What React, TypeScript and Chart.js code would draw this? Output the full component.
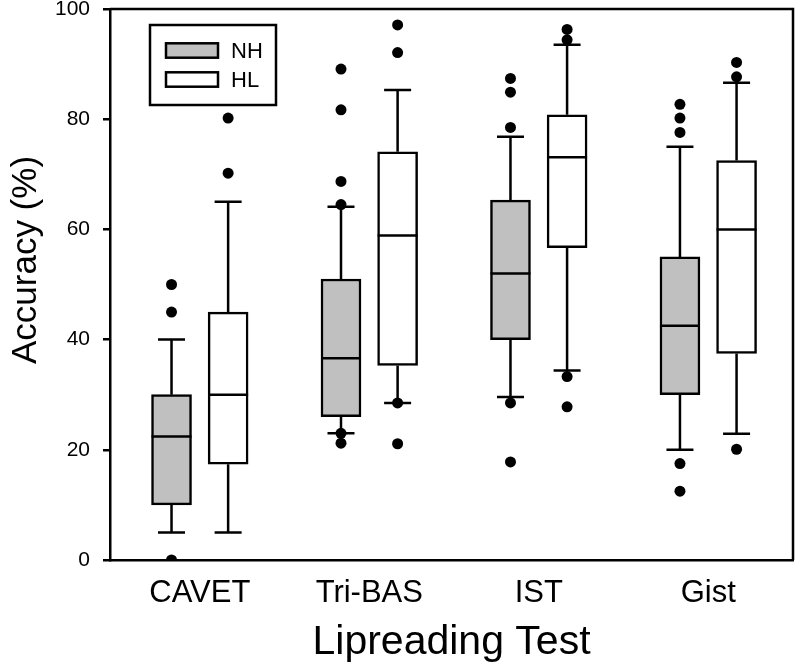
import React, { useEffect, useRef } from 'react';
import { Chart, registerables } from 'chart.js';

Chart.register(...registerables);

// ---- data ----
const categories = ['CAVET', 'Tri-BAS', 'IST', 'Gist'];
const yTicks = [0, 20, 40, 60, 80, 100];
const groupNames = ['NH', 'HL'];

const nhLowerWhisker = [5, 23, 29.6, 20];
const nhQ1 = [10, 26, 40, 30];
const nhMedian = [22.4, 36.6, 52, 42.5];
const nhQ3 = [30, 51, 65.3, 55];
const nhUpperWhisker = [40, 64.1, 76.8, 75];
const nhOutliers = [
  [0, 45, 50],
  [21.2, 23, 64.5, 68.7, 81.7, 89.1],
  [17.8, 28.5, 78.5, 84.9, 87.4],
  [12.5, 17.5, 77.6, 80.2, 82.7],
];

const hlLowerWhisker = [5, 28.5, 34.4, 22.9];
const hlQ1 = [17.4, 35.3, 56.7, 37.5];
const hlMedian = [30, 58.9, 73.1, 60];
const hlQ3 = [45, 74.1, 80.8, 72.5];
const hlUpperWhisker = [65, 85.3, 93.5, 86.6];
const hlOutliers = [
  [70.2, 80.2],
  [21.1, 28.5, 92.1, 97.1],
  [27.8, 33.3, 94.4, 96.3],
  [20.1, 87.7, 90.3],
];

// ---- styling ----
const FONT = "'Liberation Sans', Arial, sans-serif";
const NH_FILL = '#c0c0c0';
const HL_FILL = '#ffffff';
const LINE = '#000000';
const LW = 2.5;
const GROUP_OFFSET = 0.167;
const CAP_HALF = 13.5;

const boxDataset = (label: string, fill: string, offset: number, lo: number[], q1: number[], med: number[], q3: number[], hi: number[]) => ({
  type: 'bar' as const,
  label,
  data: categories.map((_, i) => ({ x: i + 1 + offset, y: [q1[i], q3[i]] })),
  backgroundColor: fill,
  borderColor: LINE,
  borderWidth: LW,
  borderSkipped: false,
  barThickness: 40,
  grouped: false,
  boxStats: { lo, med, hi, q1, q3 },
  order: 2,
});

const outlierDataset = (label: string, offset: number, outs: number[][]) => ({
  type: 'scatter' as const,
  label,
  data: outs.flatMap((vals, i) => vals.map((v) => ({ x: i + 1 + offset, y: v }))),
  backgroundColor: LINE,
  borderWidth: 0,
  pointRadius: 5.5,
  pointHoverRadius: 5.5,
  order: 1,
});

const whiskerPlugin = {
  id: 'whiskers',
  beforeDatasetsDraw(chart: any) {
    const ctx = chart.ctx;
    const yS = chart.scales.y;
    ctx.save();
    ctx.strokeStyle = LINE;
    ctx.lineWidth = LW;
    chart.data.datasets.forEach((ds: any, di: number) => {
      if (!ds.boxStats) return;
      const meta = chart.getDatasetMeta(di);
      meta.data.forEach((el: any, i: number) => {
        const x = el.x;
        const s = ds.boxStats;
        const yLo = yS.getPixelForValue(s.lo[i]);
        const yQ1 = yS.getPixelForValue(s.q1[i]);
        const yQ3 = yS.getPixelForValue(s.q3[i]);
        const yHi = yS.getPixelForValue(s.hi[i]);
        ctx.beginPath();
        ctx.moveTo(x, yQ1);
        ctx.lineTo(x, yLo);
        ctx.moveTo(x - CAP_HALF, yLo);
        ctx.lineTo(x + CAP_HALF, yLo);
        ctx.moveTo(x, yQ3);
        ctx.lineTo(x, yHi);
        ctx.moveTo(x - CAP_HALF, yHi);
        ctx.lineTo(x + CAP_HALF, yHi);
        ctx.stroke();
      });
    });
    ctx.restore();
  },
  afterDatasetsDraw(chart: any) {
    const ctx = chart.ctx;
    const yS = chart.scales.y;
    ctx.save();
    ctx.strokeStyle = LINE;
    ctx.lineWidth = LW;
    chart.data.datasets.forEach((ds: any, di: number) => {
      if (!ds.boxStats) return;
      const meta = chart.getDatasetMeta(di);
      meta.data.forEach((el: any, i: number) => {
        const y = yS.getPixelForValue(ds.boxStats.med[i]);
        const half = el.width / 2;
        ctx.beginPath();
        ctx.moveTo(el.x - half, y);
        ctx.lineTo(el.x + half, y);
        ctx.stroke();
      });
    });
    ctx.restore();
  },
};

const framePlugin = {
  id: 'frame',
  afterDraw(chart: any) {
    const { left, right, top, bottom } = chart.chartArea;
    const ctx = chart.ctx;
    ctx.save();
    ctx.strokeStyle = LINE;
    ctx.lineWidth = LW;
    ctx.beginPath();
    ctx.moveTo(left, top);
    ctx.lineTo(right, top);
    ctx.lineTo(right, bottom);
    ctx.stroke();
    ctx.restore();
  },
};

const yTitlePlugin = {
  id: 'yTitle',
  afterDraw(chart: any) {
    const ctx = chart.ctx;
    ctx.save();
    ctx.translate(35.5, 260);
    ctx.rotate(-Math.PI / 2);
    ctx.font = `35px ${FONT}`;
    ctx.fillStyle = LINE;
    ctx.textAlign = 'center';
    ctx.textBaseline = 'alphabetic';
    ctx.fillText('Accuracy (%)', 0, 0);
    ctx.restore();
  },
};

const legendPlugin = {
  id: 'boxLegend',
  afterDraw(chart: any) {
    const ctx = chart.ctx;
    const { left, top } = chart.chartArea;
    const bx = left + 40;
    const by = top + 16;
    ctx.save();
    ctx.fillStyle = '#ffffff';
    ctx.fillRect(bx, by, 126, 80);
    ctx.strokeStyle = LINE;
    ctx.lineWidth = LW;
    ctx.strokeRect(bx, by, 126, 80);
    const boxes = chart.data.datasets.filter((d: any) => d.boxStats);
    boxes.forEach((ds: any, k: number) => {
      const cy = by + 25.5 + k * 29;
      ctx.fillStyle = ds.backgroundColor;
      ctx.fillRect(bx + 16, cy - 7.2, 52, 14.4);
      ctx.strokeRect(bx + 16, cy - 7.2, 52, 14.4);
      ctx.fillStyle = LINE;
      ctx.font = `22px ${FONT}`;
      ctx.textAlign = 'left';
      ctx.textBaseline = 'middle';
      ctx.fillText(ds.label, bx + 81, cy + 1);
    });
    ctx.restore();
  },
};

export default function App() {
  const canvasRef = useRef<HTMLCanvasElement | null>(null);

  useEffect(() => {
    const canvas = canvasRef.current;
    if (!canvas) return;
    const chart = new Chart(canvas, {
      type: 'bar',
      data: {
        datasets: [
          boxDataset(groupNames[0], NH_FILL, -GROUP_OFFSET, nhLowerWhisker, nhQ1, nhMedian, nhQ3, nhUpperWhisker),
          boxDataset(groupNames[1], HL_FILL, GROUP_OFFSET, hlLowerWhisker, hlQ1, hlMedian, hlQ3, hlUpperWhisker),
          outlierDataset(groupNames[0] + ' outliers', -GROUP_OFFSET, nhOutliers),
          outlierDataset(groupNames[1] + ' outliers', GROUP_OFFSET, hlOutliers),
        ] as any,
      },
      options: {
        animation: false,
        responsive: false,
        maintainAspectRatio: false,
        devicePixelRatio: 1,
        events: [],
        layout: { padding: { top: 9, right: 7, left: 0, bottom: 0 } },
        plugins: {
          legend: { display: false },
          tooltip: { enabled: false },
          title: { display: false },
        },
        scales: {
          x: {
            type: 'linear',
            min: 0.47,
            max: 4.5,
            offset: false,
            afterBuildTicks: (s: any) => {
              s.ticks = categories.map((_, i) => ({ value: i + 1 }));
            },
            afterFit: (s: any) => {
              s.height = 109;
              s.paddingLeft = 0;
              s.paddingRight = 0;
            },
            ticks: {
              autoSkip: false,
              maxRotation: 0,
              padding: 7,
              color: LINE,
              font: { family: FONT, size: 31 },
              callback: (v: any) => categories[Math.round(Number(v)) - 1] ?? '',
            },
            grid: { display: false },
            border: { display: true, color: LINE, width: LW },
            title: {
              display: true,
              text: 'Lipreading Test',
              color: LINE,
              font: { family: FONT, size: 41 },
              padding: { top: 0, bottom: 2 },
            },
          },
          y: {
            type: 'linear',
            min: 0,
            max: 100,
            afterBuildTicks: (s: any) => {
              s.ticks = yTicks.map((v) => ({ value: v }));
            },
            afterFit: (s: any) => {
              s.width = 110;
              s.paddingTop = 0;
              s.paddingBottom = 0;
            },
            ticks: {
              padding: 13,
              color: LINE,
              font: { family: FONT, size: 21 },
            },
            grid: {
              drawOnChartArea: false,
              drawTicks: true,
              tickLength: 7,
              color: LINE,
              lineWidth: LW,
            },
            border: { display: true, color: LINE, width: LW },
          },
        },
      } as any,
      plugins: [whiskerPlugin, framePlugin, yTitlePlugin, legendPlugin],
    });
    return () => chart.destroy();
  }, []);

  return (
    <div style={{ position: 'absolute', left: 0, top: 0, width: 800, height: 669, background: '#fff' }}>
      <canvas ref={canvasRef} width={800} height={669} style={{ display: 'block' }} />
    </div>
  );
}
